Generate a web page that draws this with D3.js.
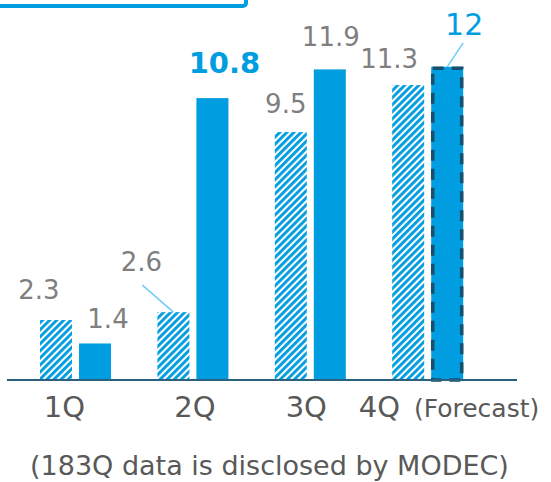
<!DOCTYPE html>
<html>
<head>
<meta charset="utf-8">
<script src="https://cdn.jsdelivr.net/npm/d3@7"></script>
<style>
  html, body { margin: 0; padding: 0; background: #ffffff; }
  svg { display: block; }
  text { font-family: "DejaVu Sans", Verdana, sans-serif; }
</style>
</head>
<body>
<svg id="chart" width="551" height="482"></svg>
<script>
// ---- data ----
const quarters = ["1Q", "2Q", "3Q", "4Q"];
const prevYear = [2.3, 2.6, 9.5, 11.3];   // hatched bars
const thisYear = [1.4, 10.8, 11.9, 12];   // solid bars (4Q = forecast)
const valueLabels = { prev: ["2.3", "2.6", "9.5", "11.3"], curr: ["1.4", "10.8", "11.9", "12"] };
const forecastNote = "(Forecast)";
const footnote = "(183Q data is disclosed by MODEC)";

// ---- styles ----
const BLUE = "#009de0";
const GRAY = "#7f7f7f";
const DARK = "#595959";
const NAVY = "#174f6c";
const LEADER = "#6dcff6";

const svg = d3.select("#chart");
const defs = svg.append("defs");
const pat = defs.append("pattern")
  .attr("id", "hatch").attr("patternUnits", "userSpaceOnUse")
  .attr("width", 5).attr("height", 5)
  .attr("patternTransform", "rotate(45)");
pat.append("rect").attr("width", 5).attr("height", 5).attr("fill", "#ffffff");
pat.append("rect").attr("x", 0).attr("width", 2.9).attr("height", 5).attr("fill", BLUE);

// top box fragment
svg.append("rect").attr("x", -20).attr("y", -40).attr("width", 266).attr("height", 46)
  .attr("rx", 3).attr("fill", "none").attr("stroke", BLUE).attr("stroke-width", 4);

// ---- scales ----
const x = d3.scaleBand().domain(quarters).range([40, 463.2]).paddingInner(0.395).paddingOuter(0);
const xs = d3.scaleBand().domain(["prev", "curr"]).range([0, x.bandwidth()]).paddingInner(0.18);
const y = d3.scaleLinear().domain([0, 12]).range([380, 66.8]);

const rows = quarters.map((q, i) => ({ q, i, prev: prevYear[i], curr: thisYear[i] }));

// hatched bars
svg.append("g").selectAll("rect").data(rows).join("rect")
  .attr("x", d => x(d.q) + xs("prev"))
  .attr("y", d => y(d.prev))
  .attr("width", xs.bandwidth())
  .attr("height", d => y(0) - y(d.prev))
  .attr("fill", "url(#hatch)");

// solid bars
svg.append("g").selectAll("rect").data(rows).join("rect")
  .attr("x", d => x(d.q) + xs("curr"))
  .attr("y", d => y(d.curr))
  .attr("width", xs.bandwidth())
  .attr("height", d => y(0) - y(d.curr))
  .attr("fill", BLUE);

// forecast dashed outline on last solid bar
const last = rows[rows.length - 1];
svg.append("rect")
  .attr("x", x(last.q) + xs("curr") + 1.5)
  .attr("y", y(last.curr) + 1.5)
  .attr("width", xs.bandwidth() - 3)
  .attr("height", y(0) - y(last.curr) - 1.5)
  .attr("fill", "none").attr("stroke", NAVY).attr("stroke-width", 3.5)
  .attr("stroke-dasharray", "11 8");

// axis baseline
svg.append("line").attr("x1", 7).attr("x2", 517).attr("y1", y(0)).attr("y2", y(0))
  .attr("stroke", "#2c6080").attr("stroke-width", 2);

// ---- value labels (placement offsets relative to bar top-center) ----
const prevOff = [[-17, -21], [-32, -41], [-5, -19], [-19, -17]];
const currOff = [[13, -15], [12, -25], [1, -23], [17, -32]];
const cx = (q, s) => x(q) + xs(s) + xs.bandwidth() / 2;

svg.append("g").selectAll("text").data(rows).join("text")
  .attr("x", d => cx(d.q, "prev") + prevOff[d.i][0])
  .attr("y", d => y(d.prev) + prevOff[d.i][1])
  .attr("text-anchor", "middle").attr("font-size", 26).attr("fill", GRAY)
  .text(d => valueLabels.prev[d.i]);

svg.append("g").selectAll("text").data(rows).join("text")
  .attr("x", d => cx(d.q, "curr") + currOff[d.i][0])
  .attr("y", d => y(d.curr) + currOff[d.i][1])
  .attr("text-anchor", "middle")
  .attr("font-size", d => d.i === 1 ? 29 : d.i === 3 ? 30 : 26)
  .attr("font-weight", d => d.i === 1 ? "bold" : "normal")
  .attr("fill", d => (d.i === 1 || d.i === 3) ? BLUE : GRAY)
  .text(d => valueLabels.curr[d.i]);

// leader lines (2Q previous, 4Q forecast)
const r1 = rows[1];
svg.append("line")
  .attr("x1", cx(r1.q, "prev")).attr("y1", y(r1.prev))
  .attr("x2", cx(r1.q, "prev") - 31).attr("y2", y(r1.prev) - 27)
  .attr("stroke", LEADER).attr("stroke-width", 1.5);
svg.append("line")
  .attr("x1", cx(last.q, "curr")).attr("y1", y(last.curr))
  .attr("x2", cx(last.q, "curr") + 16).attr("y2", y(last.curr) - 24)
  .attr("stroke", LEADER).attr("stroke-width", 1.5);

// ---- category labels ----
const catDx = [-11, 2, -4, -69];
const cat = svg.append("g").selectAll("text").data(rows).join("text")
  .attr("x", d => x(d.q) + x.bandwidth() / 2 + catDx[d.i])
  .attr("y", 417)
  .attr("text-anchor", d => d.i === 3 ? "start" : "middle")
  .attr("font-size", 29).attr("fill", DARK);
cat.append("tspan").text(d => d.q);
cat.filter(d => d.i === 3).append("tspan").attr("dx", 14).attr("font-size", 25).text(forecastNote);

// footnote
svg.append("text").attr("x", 30).attr("y", 475).attr("font-size", 27).attr("fill", DARK)
  .text(footnote);
</script>
</body>
</html>
